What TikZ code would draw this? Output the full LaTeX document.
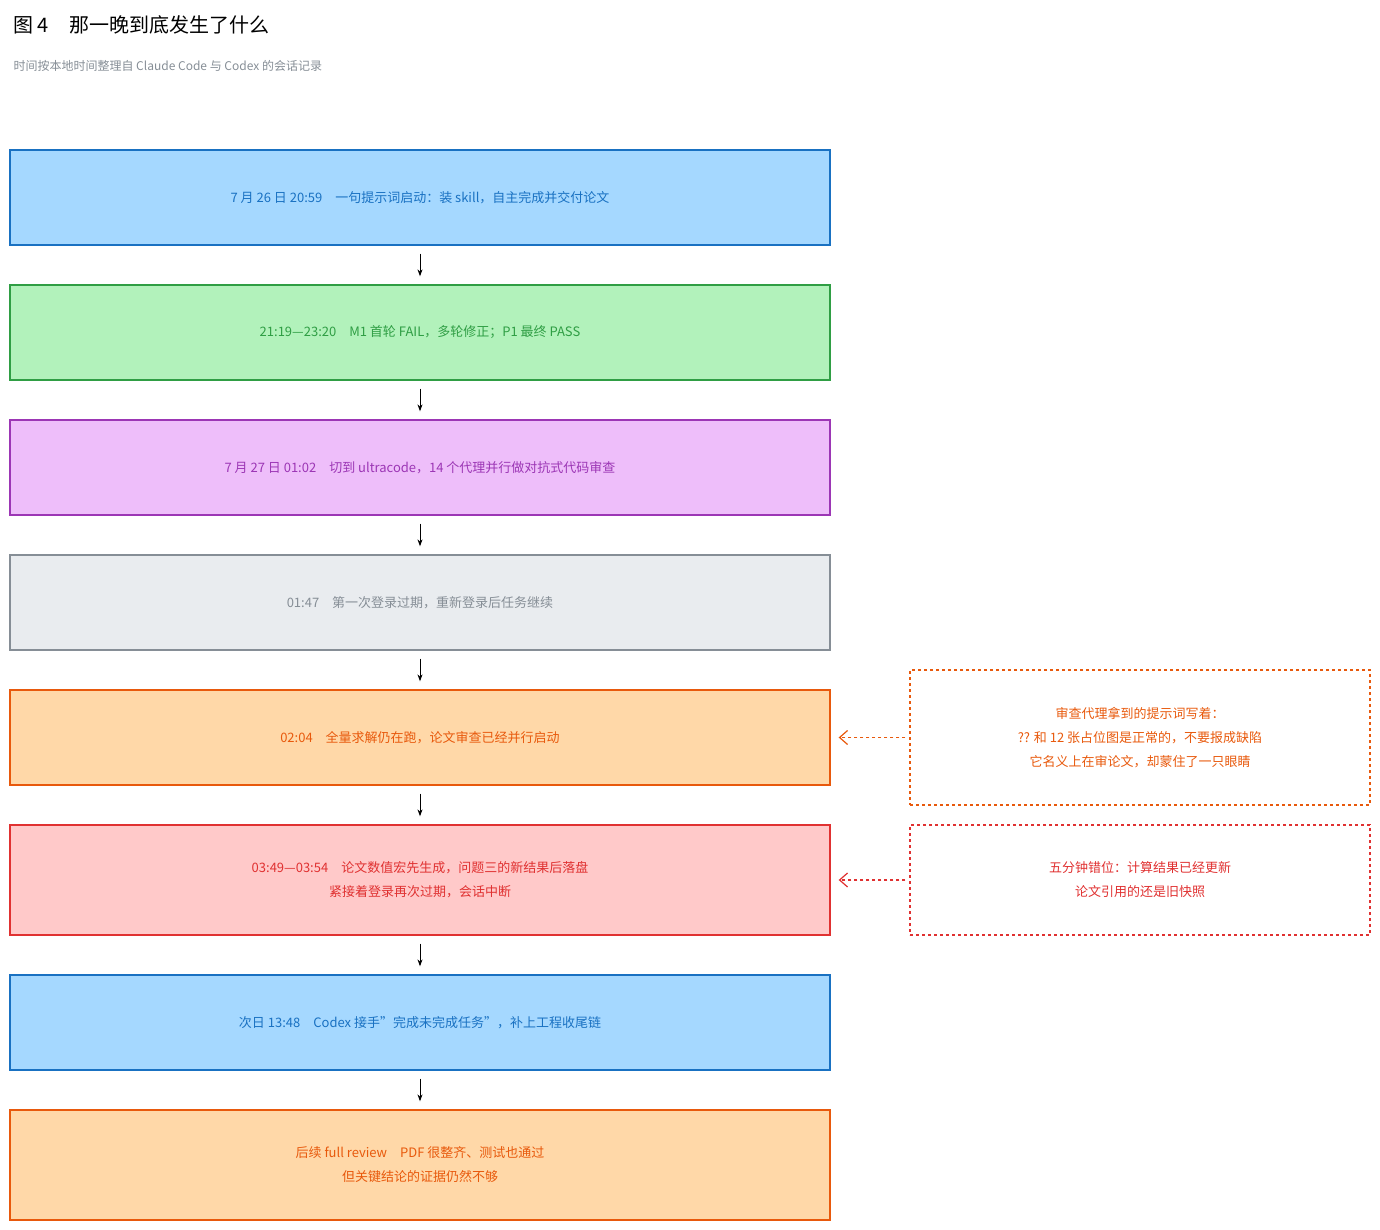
\documentclass[tikz,border=0pt]{standalone}
\usepackage{fontspec}
\setmainfont{Noto Sans CJK SC}
\usetikzlibrary{arrows.meta}
\definecolor{bF}{HTML}{A5D8FF}\definecolor{bS}{HTML}{1971C2}
\definecolor{gF}{HTML}{B2F2BB}\definecolor{gS}{HTML}{2F9E44}
\definecolor{pF}{HTML}{EEBEFA}\definecolor{pS}{HTML}{9C36B5}
\definecolor{yF}{HTML}{E9ECEF}\definecolor{yS}{HTML}{868E96}
\definecolor{oF}{HTML}{FFD8A8}\definecolor{oS}{HTML}{E8590C}
\definecolor{rF}{HTML}{FFC9C9}\definecolor{rS}{HTML}{E03131}
\begin{document}
\begin{tikzpicture}[x=1pt,y=-1pt,
  box/.style n args={2}{draw=#2,fill=#1,text=#2,line width=1.3pt,minimum width=820pt,inner sep=0pt,align=center,font=\fontsize{13}{24}\selectfont},
  side/.style={draw=#1,text=#1,dashed,line width=1.2pt,minimum width=460pt,inner sep=0pt,align=center,font=\fontsize{13}{24}\selectfont},
  arr/.style={-{Stealth[length=7pt,width=5pt]},line width=1pt,shorten <=8pt,shorten >=8pt},
  sarr/.style={dashed,line width=1.2pt,draw=#1,-{Straight Barb[length=8pt,width=14pt]},shorten <=4pt,shorten >=8pt}]
\useasboundingbox (0,0) rectangle (1380,1230);
\node[anchor=west,font=\fontsize{20}{24}\selectfont] (t) at (10,25) {图 4\quad 那一晚到底发生了什么};
\node[anchor=west,text=yS,font=\fontsize{12}{14}\selectfont] (st) at (10,66) {时间按本地时间整理自 Claude Code 与 Codex 的会话记录};
\node[box={bF}{bS},minimum height=95pt] (b1) at (420,197.5) {7 月 26 日 20:59\quad 一句提示词启动：装 skill，自主完成并交付论文};
\node[box={gF}{gS},minimum height=95pt] (b2) at (420,332.5) {21:19—23:20\quad M1 首轮 FAIL，多轮修正；P1 最终 PASS};
\node[box={pF}{pS},minimum height=95pt] (b3) at (420,467.5) {7 月 27 日 01:02\quad 切到 ultracode，14 个代理并行做对抗式代码审查};
\node[box={yF}{yS},minimum height=95pt] (b4) at (420,602.5) {01:47\quad 第一次登录过期，重新登录后任务继续};
\node[box={oF}{oS},minimum height=95pt] (b5) at (420,737.5) {02:04\quad 全量求解仍在跑，论文审查已经并行启动};
\node[box={rF}{rS},minimum height=110pt] (b6) at (420,880) {03:49—03:54\quad 论文数值宏先生成，问题三的新结果后落盘\\紧接着登录再次过期，会话中断};
\node[box={bF}{bS},minimum height=95pt] (b7) at (420,1022.5) {次日 13:48\quad Codex 接手"完成未完成任务"，补上工程收尾链};
\node[box={oF}{oS},minimum height=110pt] (b8) at (420,1165) {后续 full review\quad PDF 很整齐、测试也通过\\但关键结论的证据仍然不够};
\foreach \a/\b in {b1/b2,b2/b3,b3/b4,b4/b5,b5/b6,b6/b7,b7/b8} \draw[arr] (\a) -- (\b);
\node[side=oS,minimum height=135pt] (s1) at (1140,737.5) {审查代理拿到的提示词写着：\\?? 和 12 张占位图是正常的，不要报成缺陷\\它名义上在审论文，却蒙住了一只眼睛};
\node[side=rS,minimum height=110pt] (s2) at (1140,880) {五分钟错位：计算结果已经更新\\论文引用的还是旧快照};
\draw[sarr=oS] (s1) -- (b5);
\draw[sarr=rS] (s2) -- (b6);
\end{tikzpicture}
\end{document}
